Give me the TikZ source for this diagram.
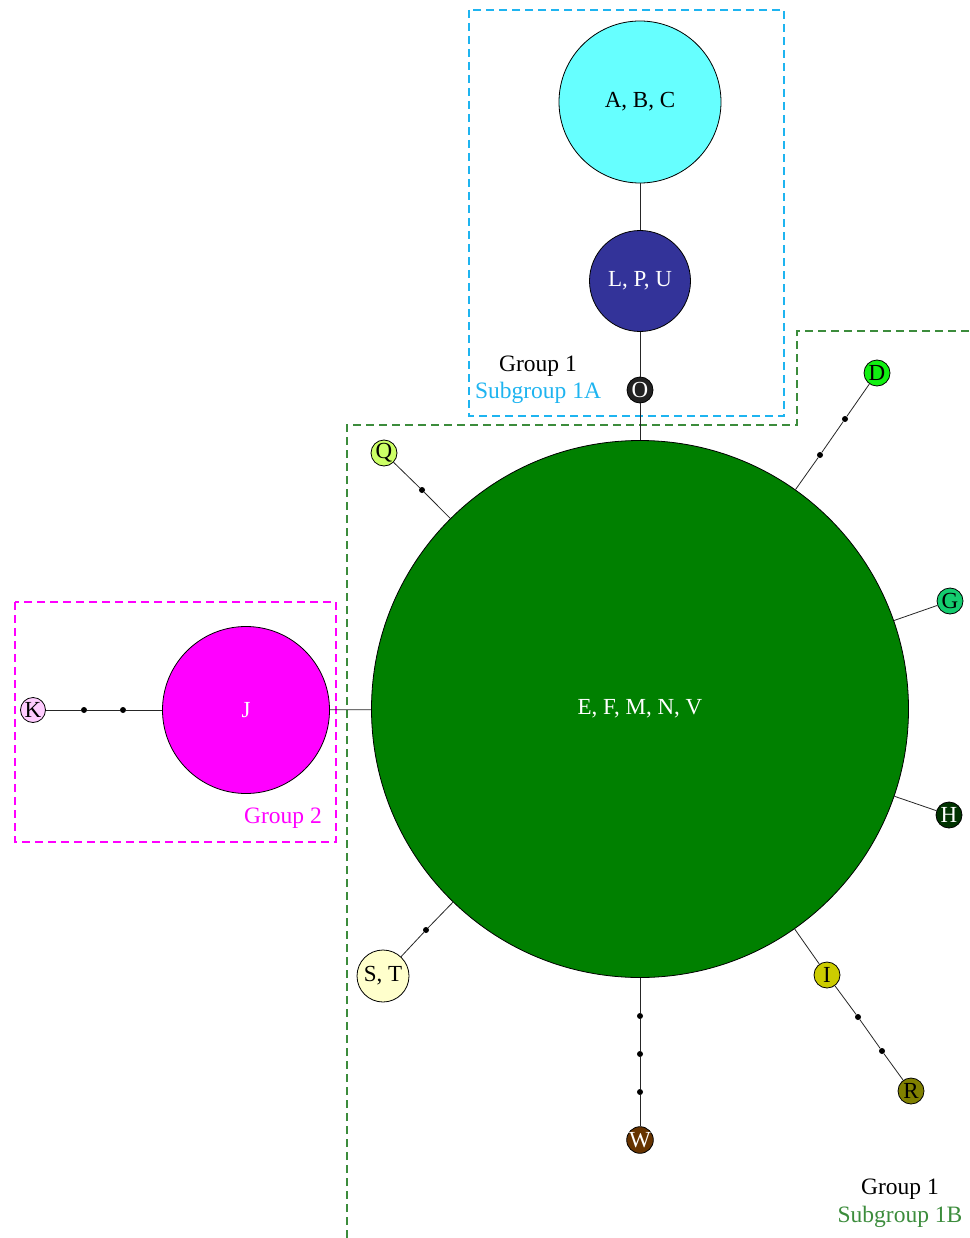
\documentclass[tikz,border=0pt]{standalone}
\usepackage{fontspec}
\setmainfont{Liberation Serif}
\begin{document}
\begin{tikzpicture}[x=1pt,y=-1pt,
  hap/.style={circle,draw=black,line width=0.8pt,inner sep=0pt,font=\fontsize{23}{25}\selectfont},
  small/.style={hap,minimum size=26pt},
  mv/.style={circle,fill=black,inner sep=0pt,minimum size=6pt},
  edge/.style={draw=black!85,line width=0.8pt},
  grpbox/.style={dashed,line width=1.6pt,dash pattern=on 8pt off 5pt},
  lbl/.style={font=\fontsize{23.5}{25}\selectfont,inner sep=0pt}]
\definecolor{cABC}{HTML}{66FFFF}
\definecolor{cLPU}{HTML}{333399}
\definecolor{cO}{HTML}{222222}
\definecolor{cE}{HTML}{008000}
\definecolor{cJ}{HTML}{FF00FF}
\definecolor{cK}{HTML}{FFCCFF}
\definecolor{cQ}{HTML}{CCFF66}
\definecolor{cD}{HTML}{11F011}
\definecolor{cG}{HTML}{14CC6E}
\definecolor{cH}{HTML}{003300}
\definecolor{cI}{HTML}{CCCC00}
\definecolor{cR}{HTML}{808000}
\definecolor{cST}{HTML}{FFFFCC}
\definecolor{cW}{HTML}{663300}
\definecolor{bluebox}{HTML}{1EB4F0}
\definecolor{greenbox}{HTML}{3C8C3C}
\useasboundingbox (0,0) rectangle (969,1238);

% group boxes
\draw[grpbox,bluebox] (469,10) rectangle (784,416);
\draw[grpbox,cJ] (15,602) rectangle (336,842);
\draw[grpbox,greenbox] (347,1238) -- (347,425) -- (797,425) -- (797,331) -- (969,331);

% haplotype nodes
\node[hap,fill=cE,text=white,minimum size=537pt] (E) at (640,709) {E, F, M, N, V};
\node[hap,fill=cABC,minimum size=162pt] (ABC) at (640,102) {A, B, C};
\node[hap,fill=cLPU,text=white,minimum size=101pt] (LPU) at (640,281) {L, P, U};
\node[small,fill=cO,text=white] (O) at (640,390) {O};
\node[hap,fill=cJ,text=white,minimum size=167pt] (J) at (246,710) {J};
\node[small,fill=cK,minimum size=25pt] (K) at (33,710) {K};
\node[small,fill=cQ] (Q) at (384,453) {Q};
\node[small,fill=cD] (D) at (877,373) {D};
\node[small,fill=cG] (G) at (950,601) {G};
\node[small,fill=cH,text=white] (H) at (949,815) {H};
\node[small,fill=cI] (I) at (827,975) {I};
\node[small,fill=cR] (R) at (911,1091) {R};
\node[hap,fill=cST,minimum size=52pt] (ST) at (383,976) {S, T};
\node[small,fill=cW,text=white] (W) at (640,1140) {W};

% median vectors
\node[mv] (k1) at (84,710) {};
\node[mv] (k2) at (123,710) {};
\node[mv] (q1) at (422,490) {};
\node[mv] (d1) at (845,419) {};
\node[mv] (d2) at (820,455) {};
\node[mv] (s1) at (426,930) {};
\node[mv] (w1) at (640,1016) {};
\node[mv] (w2) at (640,1054) {};
\node[mv] (w3) at (640,1092) {};
\node[mv] (r1) at (858,1017) {};
\node[mv] (r2) at (882,1051) {};

% connectors
\path[edge] (ABC) -- (LPU);
\path[edge] (LPU) -- (O);
\path[edge] (O) -- (E);
\path[edge] (K) -- (k1) -- (k2) -- (J);
\path[edge] (J) -- (E);
\path[edge] (Q) -- (q1) -- (E);
\path[edge] (D) -- (d1) -- (d2) -- (E);
\path[edge] (G) -- (E);
\path[edge] (H) -- (E);
\path[edge] (E) -- (I);
\path[edge] (I) -- (r1) -- (r2) -- (R);
\path[edge] (ST) -- (s1) -- (E);
\path[edge] (E) -- (w1) -- (w2) -- (w3) -- (W);

% labels
\node[lbl] (g1a) at (538,366) {Group 1};
\node[lbl,text=bluebox] (s1a) at (538,393) {Subgroup 1A};
\node[lbl,text=cJ] (g2) at (283,818) {Group 2};
\node[lbl] (g1b) at (900,1189) {Group 1};
\node[lbl,text=greenbox] (s1b) at (900,1217) {Subgroup 1B};
\end{tikzpicture}
\end{document}
